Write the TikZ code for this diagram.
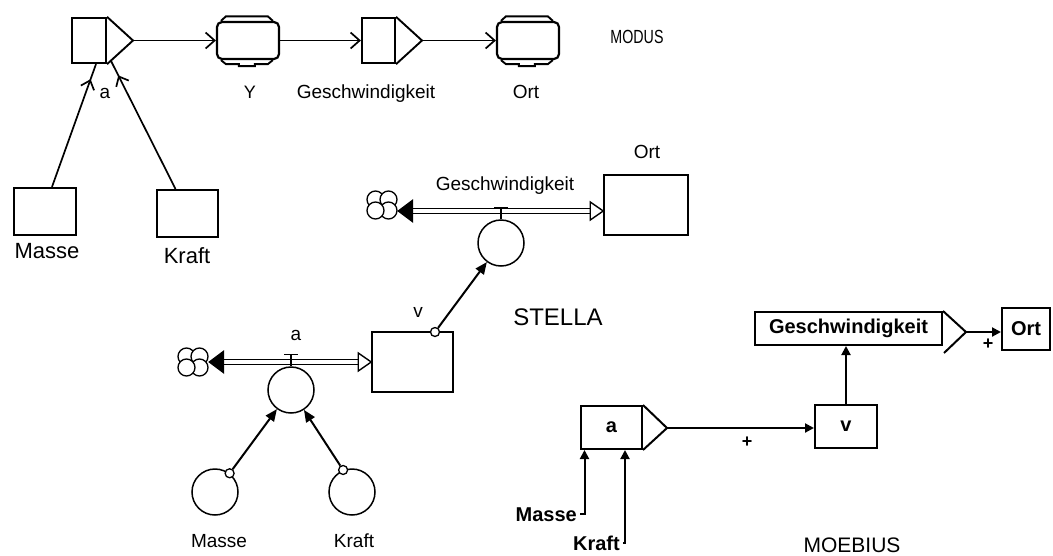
\documentclass[tikz,border=0pt]{standalone}
\usepackage{fontspec}
\setmainfont{Liberation Sans}
\usetikzlibrary{arrows.meta,positioning,calc,decorations.markings}

\newcommand{\resvlids}[1]{%
  \draw[line width=1.9pt] ([shift={(5,0)}]#1.north west) -- ++(5,-4.5) -- ++(42,0) -- ++(5,4.5);
  \draw[line width=1.9pt] ([shift={(5,0)}]#1.south west) -- ++(5,4) -- ++(13,0) -- ++(0,2) -- ++(16,0) -- ++(0,-2) -- ++(13,0) -- ++(5,-4);}
\newcommand{\puffs}[1]{%
  \foreach \dx/\dy in {-6.5/-5.5,6.5/-5.5,6.5/5.5,-6.5/5.5}
    \draw[line width=1.3pt,fill=white] ([shift={(\dx,\dy)}]#1.center) circle[radius=8.5pt];}

\begin{document}
\begin{tikzpicture}[x=1pt,y=-1pt,
  every node/.style={font=\fontsize{19}{21}\selectfont},
  modbox/.style={draw,line width=2.2pt,inner sep=0pt},
  modline/.style={line width=1.7pt},
  modtip/.style={-{Straight Barb[length=9pt,width=16pt,line width=1.7pt]}},
  midtip/.style={postaction={decorate},decoration={markings,mark=at position -16pt with {\arrow{Straight Barb[length=8pt,width=14pt]}}}},
  stbox/.style={draw,line width=1.5pt,inner sep=0pt},
  stcirc/.style={draw,circle,line width=1.5pt,minimum size=46pt,inner sep=0pt},
  knob/.style={draw,circle,line width=1.3pt,minimum size=9pt,inner sep=0pt,fill=white},
  puff/.style={minimum width=30pt,minimum height=27pt,inner sep=0pt},
  pipe/.style={double,double distance=3.5pt,line width=1.5pt},
  infl/.style={line width=2pt,-{Triangle[length=12pt,width=10pt]}},
  mobox/.style={draw,line width=2pt,inner sep=0pt,font=\fontsize{20}{22}\selectfont\bfseries},
  molink/.style={line width=2pt,-{Triangle[length=9pt,width=9pt]}},
  plus/.style={font=\fontsize{18}{18}\selectfont\bfseries}]
  \useasboundingbox (0,0) rectangle (1053,555);

  % MODUS
  \node[modbox,minimum width=34pt,minimum height=45pt] (ma) at (89,40.5) {};
  \coordinate (maout) at (133,40.5);
  \draw[line width=1.9pt] (ma.north east) -- (maout) -- (ma.south east);
  \node[modbox,rounded corners=5pt,minimum width=62pt,minimum height=37pt] (mv) at (248,40.5) {};
  \resvlids{mv}
  \node[modbox,minimum width=33pt,minimum height=45pt] (mg) at (378.5,40.5) {};
  \coordinate (mgout) at (422,40.5);
  \draw[line width=1.9pt] (mg.north east) -- (mgout) -- (mg.south east);
  \node[modbox,rounded corners=5pt,minimum width=62pt,minimum height=37pt] (mo) at (528,40.5) {};
  \resvlids{mo}
  \draw[modline,modtip] (maout) -- (mv.west);
  \draw[modline,modtip] (mv.east) -- (mg.west);
  \draw[modline,modtip] (mgout) -- (mo.west);
  \node[modbox,minimum width=62pt,minimum height=47pt] (mmasse) at (45,211.5) {};
  \node[modbox,minimum width=61pt,minimum height=47pt] (mkraft) at (187.5,213.5) {};
  \draw[modline,midtip] ([xshift=7pt]mmasse.north) -- ([xshift=7pt]ma.south);
  \draw[modline,midtip] ([xshift=-12pt]mkraft.north) -- ([shift={(4,-3)}]ma.south east);
  \node[anchor=base] (lma) at (105,98) {a};
  \node[anchor=base,font=\fontsize{18}{18}\selectfont] (lmv) at (250,98) {Y};
  \node[anchor=base] (lmg) at (366,98) {Geschwindigkeit};
  \node[anchor=base] (lmo) at (526,98) {Ort};
  \node[anchor=base,font=\fontsize{22}{22}\selectfont] (lmmasse) at (47,258) {Masse};
  \node[anchor=base,font=\fontsize{22}{22}\selectfont] (lmkraft) at (187,263) {Kraft};
  \node[anchor=base,xscale=0.75,font=\fontsize{19}{19}\selectfont] (tmodus) at (637,43) {MODUS};

  % STELLA
  \node[stbox,minimum width=84pt,minimum height=60pt] (sort) at (646,205) {};
  \node[anchor=base] (lsort) at (647,158) {Ort};
  \node[puff] (cloudg) at (382,205) {};
  \puffs{cloudg}
  \node[stcirc] (sflowg) at (501,243) {};
  \coordinate (gsrc) at ($(cloudg.east)+(0,6)$);
  \coordinate (gdst) at (gsrc -| sort.west);
  \draw[pipe] ([xshift=15pt]gsrc) -- ([xshift=-12pt]gdst);
  \fill (gsrc) -- ++(16,-12) -- ++(0,24) -- cycle;
  \draw[line width=1.4pt,fill=white] (gdst) -- ++(-13,-9) -- ++(0,18) -- cycle;
  \draw[line width=1.4pt] (sflowg.north) -- ++(0,-12) ++(-7,0) -- ++(14,0);
  \node[anchor=base] (lsflowg) at (505,190) {Geschwindigkeit};
  \node[stbox,minimum width=81pt,minimum height=60pt] (sv) at (412.5,362) {};
  \node[anchor=base] (lsv) at (418,317) {v};
  \node[knob] (svknob) at (435,332) {};
  \draw[infl] (svknob) -- (sflowg);
  \node[puff] (clouda) at (193,362) {};
  \puffs{clouda}
  \node[stcirc] (sa) at (291,390) {};
  \coordinate (asrc) at (clouda.east);
  \coordinate (adst) at (clouda.east -| sv.west);
  \draw[pipe] ([xshift=15pt]asrc) -- ([xshift=-12pt]adst);
  \fill (asrc) -- ++(16,-12) -- ++(0,24) -- cycle;
  \draw[line width=1.4pt,fill=white] (adst) -- ++(-13,-9) -- ++(0,18) -- cycle;
  \draw[line width=1.4pt] (sa.north) -- ++(0,-12) ++(-7,0) -- ++(14,0);
  \node[anchor=base] (lsa) at (296,340) {a};
  \node[stcirc] (smasse) at (215,492) {};
  \node[stcirc] (skraft) at (352,492) {};
  \node[knob] (smasseknob) at (smasse.52) {};
  \node[knob] (skraftknob) at (skraft.112) {};
  \draw[infl] (smasseknob) -- (sa);
  \draw[infl] (skraftknob) -- (sa);
  \node[anchor=base] (lsmasse) at (219,547) {Masse};
  \node[anchor=base] (lskraft) at (354,547) {Kraft};
  \node[anchor=base,font=\fontsize{24}{24}\selectfont] (tstella) at (558,325) {STELLA};

  % MOEBIUS
  \node[mobox,minimum width=187pt,minimum height=33pt] (mog) at (848.5,328.5) {Geschwindigkeit};
  \coordinate (mogout) at (966,332);
  \draw[line width=2pt] (mog.north east) -- (mogout) -- (944,353);
  \node[mobox,minimum width=48pt,minimum height=42pt] (moort) at (1026,329) {Ort};
  \draw[molink] (mogout) -- (mogout -| moort.west);
  \node[plus] (pgo) at (988,344) {+};
  \node[mobox,minimum width=61pt,minimum height=43pt] (moa) at (611.5,427.5) {a};
  \coordinate (moaout) at (667,428);
  \draw[line width=2pt] (moa.north east) -- (moaout) -- (moa.south east);
  \node[mobox,minimum width=62pt,minimum height=43pt] (mov) at (846,426) {v};
  \draw[molink] (moaout) -- (moaout -| mov.west);
  \node[plus] (pav) at (747,442) {+};
  \draw[molink] (mov.north) -- (mov.north |- mog.south);
  \node[anchor=base east,inner sep=0pt,font=\fontsize{20}{20}\selectfont\bfseries] (lmomasse) at (577,521) {Masse};
  \node[anchor=base east,inner sep=0pt,font=\fontsize{20}{20}\selectfont\bfseries] (lmokraft) at (620,550) {Kraft};
  \draw[molink] ([xshift=3pt]lmomasse.east) -| ([xshift=-27pt]moa.south);
  \draw[molink] ([xshift=3pt]lmokraft.east) -| ([xshift=13.5pt]moa.south);
  \node[anchor=base,font=\fontsize{21}{21}\selectfont] (tmoebius) at (852,552) {MOEBIUS};
\end{tikzpicture}
\end{document}
